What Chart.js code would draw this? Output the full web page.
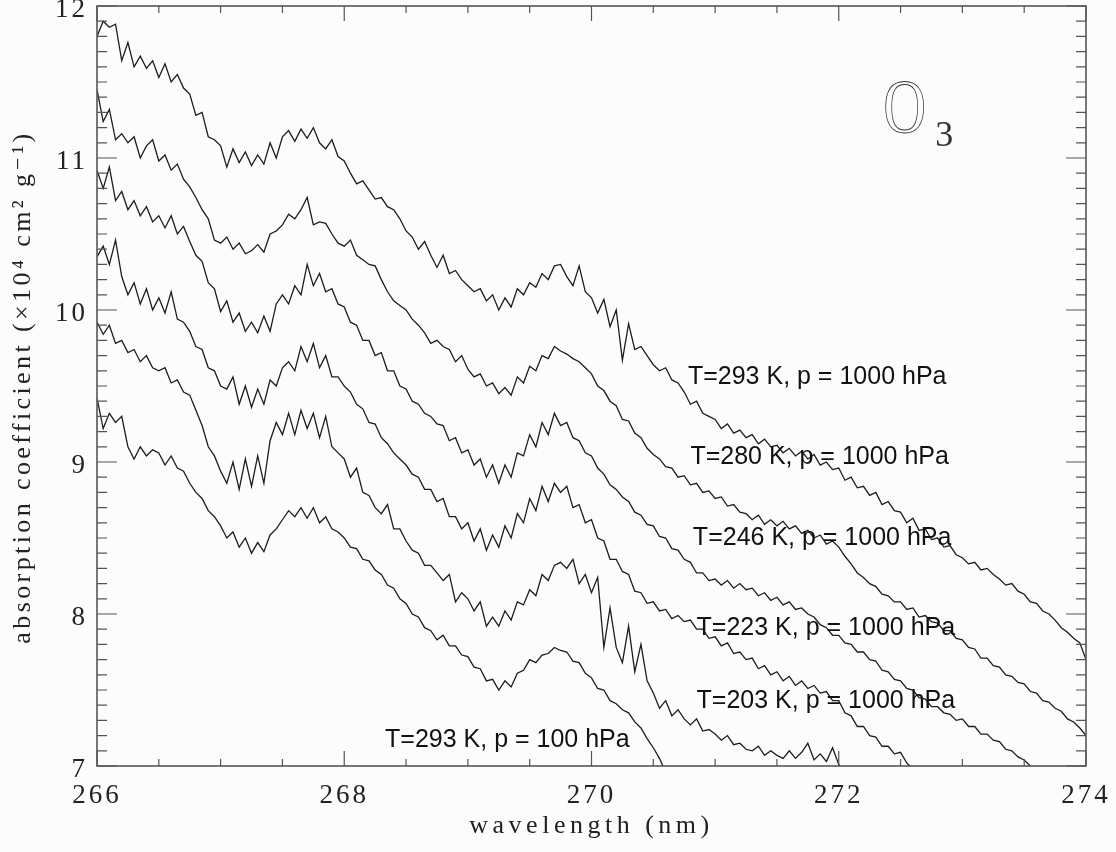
<!DOCTYPE html>
<html>
<head>
<meta charset="utf-8">
<script src="https://cdn.jsdelivr.net/npm/chart.js@4.4.1/dist/chart.umd.min.js"></script>
<style>
  html, body { margin: 0; padding: 0; background: #fcfcfc; }
  #chart { display: block; }
</style>
</head>
<body>
<canvas id="chart" width="1116" height="852"></canvas>
<script>
// wavelength grid (nm), one sample every 0.05 nm
const wavelength = Array.from({ length: 161 }, (_, i) => Math.round((266 + i * 0.05) * 100) / 100);

// absorption coefficient (x10^4 cm^2 g^-1)
const t293 = [
  11.80, 11.90, 11.86, 11.88, 11.64, 11.76, 11.60, 11.67, 11.59, 11.64,
  11.53, 11.62, 11.50, 11.55, 11.46, 11.42, 11.28, 11.30, 11.14, 11.12,
  11.08, 10.94, 11.06, 10.97, 11.04, 10.95, 11.02, 10.96, 11.10, 11.00,
  11.14, 11.18, 11.11, 11.19, 11.13, 11.20, 11.10, 11.06, 11.12, 11.01,
  10.98, 10.90, 10.83, 10.85, 10.79, 10.73, 10.74, 10.68, 10.66, 10.60,
  10.52, 10.48, 10.40, 10.45, 10.36, 10.28, 10.36, 10.24, 10.26, 10.20,
  10.16, 10.12, 10.14, 10.06, 10.10, 10.00, 10.08, 10.02, 10.14, 10.10,
  10.18, 10.15, 10.24, 10.20, 10.29, 10.30, 10.22, 10.16, 10.29, 10.12,
  10.08, 9.98, 10.07, 9.89, 10.00, 9.67, 9.91, 9.74, 9.76, 9.70,
  9.64, 9.60, 9.62, 9.54, 9.52, 9.46, 9.38, 9.40, 9.32, 9.30,
  9.28, 9.22, 9.25, 9.19, 9.21, 9.16, 9.18, 9.12, 9.15, 9.10,
  9.11, 9.06, 9.09, 9.04, 9.07, 9.02, 9.05, 8.98, 9.00, 8.95,
  8.96, 8.88, 8.90, 8.83, 8.84, 8.78, 8.80, 8.72, 8.74, 8.68,
  8.67, 8.60, 8.63, 8.55, 8.56, 8.49, 8.50, 8.44, 8.45, 8.39,
  8.37, 8.33, 8.34, 8.29, 8.30, 8.26, 8.23, 8.19, 8.20, 8.15,
  8.13, 8.08, 8.07, 8.02, 8.00, 7.96, 7.91, 7.88, 7.84, 7.81,
  7.70
];
const t280 = [
  11.45, 11.24, 11.32, 11.12, 11.16, 11.10, 11.14, 11.00, 11.08, 11.12,
  10.98, 11.02, 10.92, 10.96, 10.86, 10.81, 10.74, 10.66, 10.60, 10.46,
  10.44, 10.48, 10.40, 10.44, 10.37, 10.39, 10.43, 10.38, 10.50, 10.52,
  10.56, 10.63, 10.60, 10.66, 10.74, 10.56, 10.58, 10.57, 10.50, 10.44,
  10.42, 10.46, 10.36, 10.33, 10.30, 10.29, 10.20, 10.12, 10.06, 10.03,
  10.00, 9.94, 9.90, 9.85, 9.78, 9.80, 9.76, 9.74, 9.66, 9.70,
  9.61, 9.56, 9.58, 9.50, 9.52, 9.45, 9.49, 9.44, 9.56, 9.52,
  9.63, 9.60, 9.70, 9.68, 9.76, 9.73, 9.71, 9.68, 9.66, 9.62,
  9.58, 9.50, 9.47, 9.40, 9.37, 9.28, 9.27, 9.19, 9.16, 9.09,
  9.05, 9.02, 8.97, 8.96, 8.90, 8.91, 8.85, 8.86, 8.80, 8.81,
  8.76, 8.77, 8.71, 8.72, 8.67, 8.66, 8.62, 8.65, 8.59, 8.62,
  8.58, 8.61, 8.56, 8.58, 8.53, 8.55, 8.50, 8.52, 8.46, 8.48,
  8.44, 8.38, 8.33, 8.27, 8.24, 8.20, 8.18, 8.13, 8.12, 8.08,
  8.08, 8.03, 8.04, 7.98, 7.99, 7.95, 7.94, 7.89, 7.89, 7.84,
  7.83, 7.78, 7.77, 7.71, 7.71, 7.66, 7.65, 7.60, 7.59, 7.55,
  7.54, 7.49, 7.48, 7.43, 7.42, 7.38, 7.36, 7.31, 7.29, 7.25,
  7.20
];
const t246 = [
  10.92, 10.80, 10.94, 10.72, 10.78, 10.66, 10.72, 10.62, 10.68, 10.58,
  10.62, 10.54, 10.62, 10.50, 10.55, 10.45, 10.36, 10.32, 10.18, 10.14,
  9.99, 10.06, 9.92, 9.98, 9.86, 9.92, 9.85, 9.96, 9.86, 10.04,
  10.10, 10.04, 10.16, 10.10, 10.30, 10.16, 10.24, 10.12, 10.14, 10.04,
  10.02, 9.92, 9.90, 9.80, 9.80, 9.70, 9.72, 9.60, 9.60, 9.50,
  9.48, 9.40, 9.38, 9.32, 9.30, 9.25, 9.24, 9.14, 9.16, 9.06,
  9.08, 8.98, 9.02, 8.90, 8.98, 8.86, 8.98, 8.90, 9.06, 9.04,
  9.18, 9.10, 9.26, 9.18, 9.32, 9.24, 9.26, 9.16, 9.14, 9.06,
  9.04, 8.96, 8.92, 8.85, 8.82, 8.77, 8.74, 8.67, 8.65, 8.59,
  8.58, 8.51, 8.50, 8.43, 8.42, 8.36, 8.34, 8.27, 8.27, 8.22,
  8.23, 8.19, 8.22, 8.17, 8.20, 8.16, 8.17, 8.12, 8.14, 8.09,
  8.11, 8.06, 8.08, 8.03, 8.04, 8.00, 7.98, 7.93, 7.91, 7.86,
  7.86, 7.81, 7.80, 7.75, 7.75, 7.70, 7.69, 7.63, 7.62, 7.57,
  7.56, 7.51, 7.50, 7.45, 7.44, 7.39, 7.39, 7.35, 7.34, 7.30,
  7.31, 7.26, 7.26, 7.21, 7.21, 7.17, 7.16, 7.11, 7.10, 7.06,
  7.04, 7.00, 6.97
];
const t223 = [
  10.35, 10.42, 10.30, 10.46, 10.22, 10.10, 10.18, 10.04, 10.14, 10.00,
  10.08, 9.98, 10.12, 9.94, 9.92, 9.86, 9.76, 9.74, 9.62, 9.60,
  9.50, 9.48, 9.56, 9.38, 9.50, 9.36, 9.48, 9.38, 9.54, 9.50,
  9.62, 9.66, 9.60, 9.76, 9.66, 9.78, 9.62, 9.70, 9.56, 9.56,
  9.50, 9.46, 9.38, 9.35, 9.26, 9.25, 9.16, 9.12, 9.06, 9.02,
  8.98, 8.92, 8.90, 8.82, 8.82, 8.74, 8.76, 8.64, 8.64, 8.56,
  8.60, 8.48, 8.56, 8.42, 8.52, 8.44, 8.58, 8.50, 8.66, 8.60,
  8.76, 8.68, 8.84, 8.74, 8.86, 8.80, 8.84, 8.70, 8.72, 8.60,
  8.62, 8.50, 8.48, 8.36, 8.36, 8.28, 8.26, 8.15, 8.14, 8.07,
  8.08, 8.02, 8.03, 7.97, 7.99, 7.95, 7.96, 7.90, 7.90, 7.84,
  7.85, 7.79, 7.81, 7.74, 7.75, 7.70, 7.71, 7.64, 7.66, 7.60,
  7.62, 7.56, 7.59, 7.53, 7.56, 7.51, 7.53, 7.48, 7.49, 7.43,
  7.43, 7.35, 7.33, 7.26, 7.26, 7.20, 7.19, 7.13, 7.13, 7.08,
  7.09, 7.02, 6.98
];
const t203 = [
  9.92, 9.84, 9.90, 9.78, 9.80, 9.72, 9.74, 9.66, 9.70, 9.62,
  9.60, 9.62, 9.52, 9.54, 9.46, 9.44, 9.34, 9.24, 9.10, 9.04,
  8.94, 8.86, 9.00, 8.82, 9.02, 8.84, 9.04, 8.86, 9.14, 9.26,
  9.18, 9.32, 9.18, 9.34, 9.22, 9.32, 9.16, 9.30, 9.10, 9.06,
  9.02, 8.90, 8.96, 8.80, 8.78, 8.70, 8.66, 8.72, 8.56, 8.56,
  8.48, 8.42, 8.40, 8.32, 8.32, 8.27, 8.22, 8.26, 8.08, 8.14,
  8.10, 8.02, 8.08, 7.92, 7.98, 7.92, 8.02, 7.96, 8.08, 8.06,
  8.16, 8.12, 8.26, 8.22, 8.32, 8.34, 8.30, 8.36, 8.20, 8.26,
  8.14, 8.24, 7.78, 8.04, 7.78, 7.68, 7.92, 7.62, 7.80, 7.56,
  7.48, 7.38, 7.43, 7.33, 7.37, 7.31, 7.27, 7.31, 7.23, 7.24,
  7.21, 7.17, 7.20, 7.14, 7.15, 7.11, 7.10, 7.13, 7.07, 7.10,
  7.07, 7.05, 7.10, 7.05, 7.09, 7.15, 7.04, 7.08, 7.03, 7.12,
  7.01, 6.96
];
const t293low = [
  9.42, 9.22, 9.32, 9.26, 9.30, 9.10, 9.02, 9.10, 9.04, 9.08,
  9.06, 8.98, 9.04, 8.96, 8.94, 8.86, 8.80, 8.76, 8.68, 8.64,
  8.58, 8.50, 8.54, 8.44, 8.50, 8.40, 8.47, 8.41, 8.52, 8.56,
  8.62, 8.68, 8.64, 8.70, 8.63, 8.70, 8.60, 8.64, 8.56, 8.54,
  8.50, 8.44, 8.43, 8.36, 8.35, 8.29, 8.26, 8.19, 8.17, 8.10,
  8.07, 8.00, 7.98, 7.91, 7.89, 7.83, 7.86, 7.79, 7.79, 7.73,
  7.72, 7.65, 7.64, 7.56, 7.57, 7.50, 7.56, 7.52, 7.61, 7.63,
  7.70, 7.68, 7.73, 7.74, 7.78, 7.76, 7.75, 7.69, 7.68, 7.61,
  7.58, 7.51, 7.50, 7.43, 7.41, 7.37, 7.35, 7.29, 7.25, 7.18,
  7.12, 7.05, 6.96
];

const seriesNames = ['T=293 K, 1000 hPa', 'T=280 K, 1000 hPa', 'T=246 K, 1000 hPa',
                     'T=223 K, 1000 hPa', 'T=203 K, 1000 hPa', 'T=293 K, 100 hPa'];
const seriesValues = [t293, t280, t246, t223, t203, t293low];

// curve labels and where they sit (in axis units)
const labelText = ['T=293 K, p = 1000 hPa', 'T=280 K, p = 1000 hPa', 'T=246 K, p = 1000 hPa',
                   'T=223 K, p = 1000 hPa', 'T=203 K, p = 1000 hPa', 'T=293 K, p = 100 hPa'];
const labelX = [270.78, 270.80, 270.82, 270.85, 270.85, 268.33];
const labelY = [9.56, 9.03, 8.50, 7.91, 7.43, 7.17];

const xTicks = [266, 268, 270, 272, 274];
const yTicks = [7, 8, 9, 10, 11, 12];

const serif = '"Liberation Serif", "DejaVu Serif", serif';
const sans = '"Liberation Sans", Arial, sans-serif';

// frame with inward ticks, axis titles and text labels
const decorations = {
    id: 'decorations',
    beforeDraw(chart) {
        chart.ctx.letterSpacing = '3px';
    },
    afterDraw(chart) {
        const { ctx, chartArea: a, scales: { x, y } } = chart;
        ctx.save();
        ctx.letterSpacing = '0px';

        ctx.strokeStyle = '#555';
        ctx.lineWidth = 1.6;
        ctx.strokeRect(a.left, a.top, a.right - a.left, a.bottom - a.top);

        ctx.lineWidth = 1.2;
        ctx.beginPath();
        for (let k = 0; k <= 16; k++) {
            const px = x.getPixelForValue(266 + k * 0.5);
            const len = k % 4 === 0 ? 15 : 7;
            ctx.moveTo(px, a.bottom); ctx.lineTo(px, a.bottom - len);
            ctx.moveTo(px, a.top); ctx.lineTo(px, a.top + len);
        }
        for (let k = 70; k <= 120; k++) {
            const py = y.getPixelForValue(k / 10);
            const len = k % 10 === 0 ? 20 : 10;
            ctx.moveTo(a.left, py); ctx.lineTo(a.left + len, py);
            ctx.moveTo(a.right, py); ctx.lineTo(a.right - len, py);
        }
        ctx.stroke();

        // axis titles
        ctx.fillStyle = '#222';
        ctx.textAlign = 'center';
        ctx.textBaseline = 'middle';
        ctx.font = '26px ' + serif;
        ctx.letterSpacing = '4.5px';
        ctx.fillText('wavelength (nm)', (a.left + a.right) / 2, 826);
        ctx.save();
        ctx.translate(23, 387);
        ctx.rotate(-Math.PI / 2);
        ctx.letterSpacing = '3.4px';
        ctx.fillText('absorption coefficient (\u00d710\u2074 cm\u00b2 g\u207b\u00b9)', 0, 0);
        ctx.restore();
        ctx.letterSpacing = '0px';

        // curve labels
        ctx.fillStyle = '#111';
        ctx.textAlign = 'left';
        ctx.font = '25px ' + sans;
        labelText.forEach((t, i) => {
            ctx.fillText(t, x.getPixelForValue(labelX[i]), y.getPixelForValue(labelY[i]));
        });

        // O3
        ctx.save();
        ctx.translate(x.getPixelForValue(272.36), y.getPixelForValue(11.30));
        ctx.scale(0.78, 1);
        ctx.font = '76px ' + serif;
        ctx.strokeStyle = '#333';
        ctx.lineWidth = 0.9;
        ctx.strokeText('O', 0, 0);
        ctx.restore();
        ctx.fillStyle = '#333';
        ctx.font = '36px ' + serif;
        ctx.fillText('3', x.getPixelForValue(272.78), y.getPixelForValue(11.14));

        ctx.restore();
    }
};

new Chart(document.getElementById('chart'), {
    type: 'line',
    data: {
        datasets: seriesValues.map((vals, s) => ({
            label: seriesNames[s],
            data: vals.map((v, i) => ({ x: wavelength[i], y: v })),
            borderColor: '#1c1c1c',
            borderWidth: 1.3,
            pointRadius: 0,
            tension: 0,
            fill: false
        }))
    },
    options: {
        responsive: false,
        animation: false,
        layout: { padding: { top: 6, right: 30, left: 0, bottom: 0 } },
        plugins: { legend: { display: false }, tooltip: { enabled: false } },
        scales: {
            x: {
                type: 'linear',
                min: 266,
                max: 274,
                grid: { display: false, drawTicks: false },
                border: { display: false },
                afterBuildTicks: scale => { scale.ticks = xTicks.map(v => ({ value: v })); },
                ticks: { padding: 14, color: '#222', font: { family: serif, size: 27 } },
                afterFit: scale => { scale.height = 86; scale.paddingLeft = 0; scale.paddingRight = 0; }
            },
            y: {
                type: 'linear',
                min: 7,
                max: 12,
                grid: { display: false, drawTicks: false },
                border: { display: false },
                afterBuildTicks: scale => { scale.ticks = yTicks.map(v => ({ value: v })); },
                ticks: { padding: 9, labelOffset: 4, color: '#222', font: { family: serif, size: 27 } },
                afterFit: scale => { scale.width = 97; scale.paddingTop = 0; scale.paddingBottom = 0; }
            }
        }
    },
    plugins: [decorations]
});
</script>
</body>
</html>
